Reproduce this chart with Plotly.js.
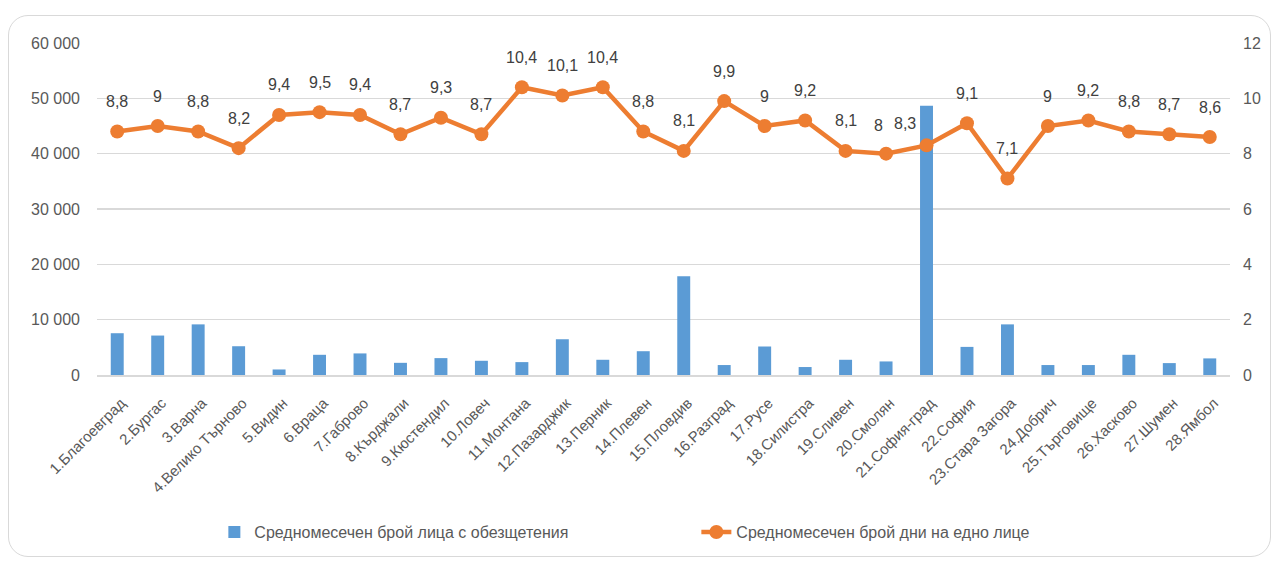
<!DOCTYPE html>
<html>
<head>
<meta charset="utf-8">
<script src="https://cdn.plot.ly/plotly-3.0.1.min.js"></script>
<style>
  body { margin: 0; background: #fff; }
  #chart { position: absolute; left: 0; top: 0; width: 1272px; height: 561px; }
  #frame { position: absolute; left: 8px; top: 15px; width: 1261px; height: 540px;
           border: 1.5px solid #d9d9d9; border-radius: 20px; pointer-events: none; }
</style>
</head>
<body>
<div id="frame"></div>
<div id="chart"></div>
<script>
var regions = ["1.Благоевград", "2.Бургас", "3.Варна", "4.Велико Търново", "5.Видин", "6.Враца",
    "7.Габрово", "8.Кърджали", "9.Кюстендил", "10.Ловеч", "11.Монтана", "12.Пазарджик",
    "13.Перник", "14.Плевен", "15.Пловдив", "16.Разград", "17.Русе", "18.Силистра",
    "19.Сливен", "20.Смолян", "21.София-град", "22.София", "23.Стара Загора", "24.Добрич",
    "25.Търговище", "26.Хасково", "27.Шумен", "28.Ямбол"];

var persons = [7550, 7130, 9150, 5200, 1000, 3650, 3900, 2200, 3050, 2570, 2330, 6460,
    2750, 4300, 17830, 1800, 5150, 1440, 2750, 2450, 48650, 5080, 9150, 1800,
    1800, 3650, 2150, 3000];

var days = [8.8, 9, 8.8, 8.2, 9.4, 9.5, 9.4, 8.7, 9.3, 8.7, 10.4, 10.1, 10.4, 8.8,
    8.1, 9.9, 9, 9.2, 8.1, 8, 8.3, 9.1, 7.1, 9, 9.2, 8.8, 8.7, 8.6];

var barName = "Средномесечен брой лица с обезщетения";
var lineName = "Средномесечен брой дни на едно лице";

var fontFamily = "'Liberation Sans', Arial, sans-serif";
var grey = "#595959";

var bars = {
    type: "bar",
    name: barName,
    x: regions,
    y: persons,
    marker: { color: "#5b9bd5" },
    yaxis: "y"
};

var line = {
    type: "scatter",
    mode: "lines+markers",
    name: lineName,
    x: regions,
    y: days,
    line: { color: "#ed7d31", width: 4.5 },
    marker: { color: "#ed7d31", size: 14 },
    yaxis: "y2",
    cliponaxis: false
};

// a couple of labels were moved aside in the original to clear the tall bar
var nudge = { 19: { x: -8, y: 28 }, 20: { x: -22, y: 22 } };

var labels = days.map(function (d, i) {
    var n = nudge[i] || { x: 0, y: 30 };
    return {
        x: regions[i],
        y: d,
        xref: "x",
        yref: "y2",
        text: String(d).replace(".", ","),
        showarrow: false,
        xshift: n.x,
        yshift: n.y,
        font: { family: fontFamily, size: 16, color: "#404040" }
    };
});

var layout = {
    width: 1272,
    height: 561,
    margin: { l: 97, r: 42, t: 43, b: 184 },
    paper_bgcolor: "rgba(0,0,0,0)",
    plot_bgcolor: "rgba(0,0,0,0)",
    separators: ", ",
    font: { family: fontFamily, color: grey },
    bargap: 0.68,
    showlegend: true,
    annotations: labels,
    legend: {
        orientation: "h",
        x: 0.529, xanchor: "center",
        y: -0.473, yanchor: "middle",
        entrywidth: 437,
        font: { family: fontFamily, size: 16, color: grey },
        traceorder: "normal"
    },
    xaxis: {
        type: "category",
        range: [-0.5, regions.length - 0.5],
        tickangle: -45,
        automargin: false,
        ticklabelstandoff: 12,
        ticklabelshift: 4,
        tickfont: { family: fontFamily, size: 15, color: grey },
        showgrid: false,
        showline: true,
        linecolor: "#d9d9d9",
        linewidth: 1.5,
        ticks: "",
        fixedrange: true
    },
    yaxis: {
        range: [0, 60000],
        dtick: 10000,
        tickformat: ",d",
        automargin: false,
        ticklabelstandoff: 16,
        tickfont: { family: fontFamily, size: 16, color: grey },
        gridcolor: "#d9d9d9",
        gridwidth: 1.5,
        zeroline: false,
        ticks: "",
        fixedrange: true
    },
    yaxis2: {
        overlaying: "y",
        side: "right",
        range: [0, 12],
        dtick: 2,
        automargin: false,
        ticklabelstandoff: 12,
        tickfont: { family: fontFamily, size: 16, color: grey },
        showgrid: false,
        zeroline: false,
        fixedrange: true
    }
};

Plotly.newPlot("chart", [bars, line], layout, { displayModeBar: false, staticPlot: true });
</script>
</body>
</html>
